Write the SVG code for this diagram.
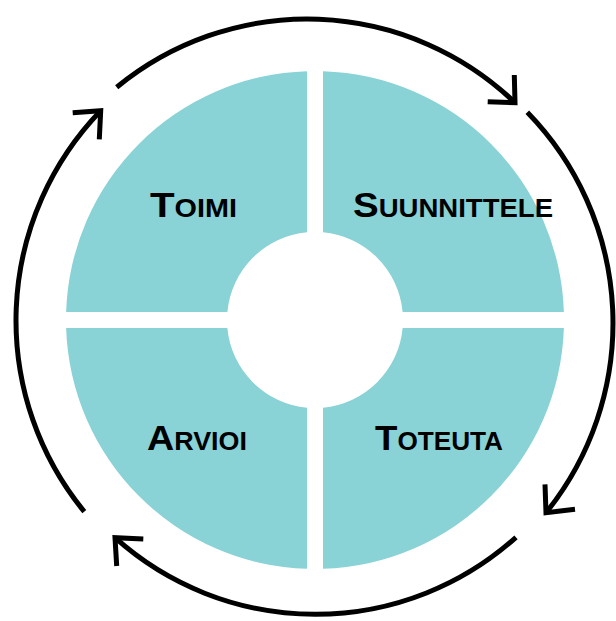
<svg xmlns="http://www.w3.org/2000/svg" width="616" height="621" viewBox="0 0 616 621">
<style>
.q{fill:#89D2D5;}
.lbl{font-family:"Liberation Sans","DejaVu Sans",sans-serif;font-weight:bold;font-variant:small-caps;font-size:35px;fill:#000;text-anchor:middle;}
.arc{fill:none;stroke:#000;stroke-width:5;stroke-linecap:butt;stroke-linejoin:miter;}
</style>
<rect width="616" height="621" fill="#fff"/>
<g id="toimi">
<path class="q" d="M307 71.13 L307 232.36 A88 88 0 0 0 227.36 312 L66.13 312 A249 249 0 0 1 307 71.13 Z"/>
<text class="lbl" x="193.5" y="217" textLength="87" lengthAdjust="spacingAndGlyphs">Toimi</text>
</g>
<g id="suunnittele">
<path class="q" d="M323 71.13 A249 249 0 0 1 563.87 312 L402.64 312 A88 88 0 0 0 323 232.36 Z"/>
<text class="lbl" x="453" y="217" textLength="200" lengthAdjust="spacingAndGlyphs">Suunnittele</text>
</g>
<g id="toteuta">
<path class="q" d="M323 568.87 L323 407.64 A88 88 0 0 0 402.64 328 L563.87 328 A249 249 0 0 1 323 568.87 Z"/>
<text class="lbl" x="439" y="450" textLength="128" lengthAdjust="spacingAndGlyphs">Toteuta</text>
</g>
<g id="arvioi">
<path class="q" d="M66.13 328 L227.36 328 A88 88 0 0 0 307 407.64 L307 568.87 A249 249 0 0 1 66.13 328 Z"/>
<text class="lbl" x="197" y="450" textLength="100" lengthAdjust="spacingAndGlyphs">Arvioi</text>
</g>
<g id="connectors">
<path class="arc" d="M116.7 87.3 A300 300 0 0 1 515 102.7"/>
<polyline class="arc" points="514.3,75 515,102.7 487.7,101.7"/>
<path class="arc" d="M527.3 112.3 A302 302 0 0 1 546 512.7"/>
<polyline class="arc" points="545,484.3 546,512.7 575,509.3"/>
<path class="arc" d="M516 537.3 A300 300 0 0 1 115 537.7"/>
<polyline class="arc" points="143.3,539 115,537.7 116.7,566"/>
<path class="arc" d="M84.3 511.7 A302 302 0 0 1 100.7 110.7"/>
<polyline class="arc" points="72.7,112.7 100.7,110.7 99.3,139.3"/>
</g>
</svg>
